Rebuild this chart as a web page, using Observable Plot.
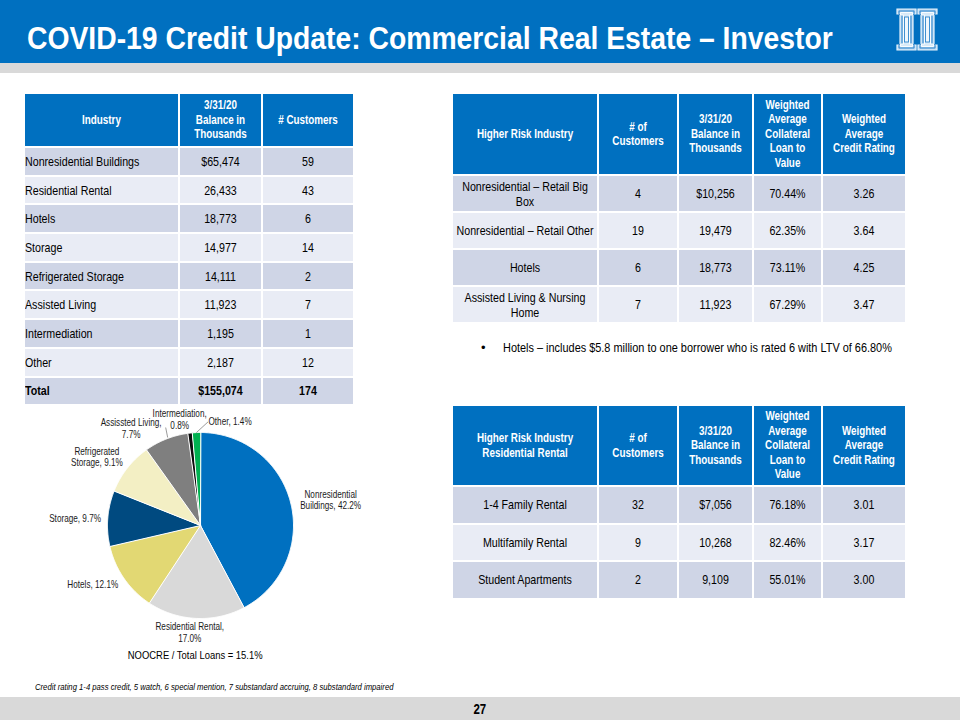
<!DOCTYPE html>
<html>
<head>
<meta charset="utf-8">
<script src="https://cdn.jsdelivr.net/npm/d3@7"></script>
<script src="https://cdn.jsdelivr.net/npm/@observablehq/plot@0.6"></script>
<style>
  html, body { margin: 0; padding: 0; background: #fff; }
  #slide { position: relative; width: 960px; height: 720px; overflow: hidden;
           font-family: "Liberation Sans", Arial, sans-serif; color: #000; }
  .band { position: absolute; left: 0; width: 960px; }
  .sq { display: inline-block; transform: scaleX(0.82); transform-origin: 0 50%; white-space: nowrap; }
  .sqm { display: inline-block; transform: scaleX(0.82); transform-origin: 50% 50%; white-space: nowrap; }
  .sqc { transform: scaleX(0.82); transform-origin: 0 50%; }
  #title { position: absolute; left: 27px; top: 22px; margin: 0; font-size: 32px; line-height: 32px;
           font-weight: bold; color: #fff; white-space: nowrap; }
  #title .sq { transform: scaleX(0.885); }
  table.t { position: absolute; border-collapse: separate; border-spacing: 2px; table-layout: fixed; }
  table.t td, table.t th { padding: 0; vertical-align: middle; overflow: hidden; }
  table.t th { background: #0070c0; color: #fff; font-weight: bold; font-size: 12px; line-height: 14.4px; text-align: center; }
  table.t td { font-size: 13px; line-height: 15px; text-align: center; }
  table.t tr.dk td { background: #cfd5e6; }
  table.t tr.lt td { background: #e9ecf5; }
  table.t td.l { text-align: left; }
  table.t tr.tot td { font-weight: bold; }
  #bullet { position: absolute; left: 481px; top: 340px; font-size: 13px; white-space: nowrap; }
  #bullet .b { position: absolute; left: 0; top: 0; }
  #bullet .sq { position: absolute; left: 22px; top: 0; transform: scaleX(0.84); }
  #noocre { position: absolute; left: 0; width: 390px; top: 649px; text-align: center; font-size: 11.5px; }
  #foot { position: absolute; left: 35px; top: 681px; font-size: 9.5px; font-style: italic; white-space: nowrap; }
  #foot .sq { transform: scaleX(0.81); }
  #page { position: absolute; left: 0; width: 960px; top: 701px; text-align: center; font-size: 14px; font-weight: bold; }
  #pie { position: absolute; left: 10px; top: 400px; width: 380px; height: 270px; }
</style>
</head>
<body>
<div id="slide">
  <div class="band" style="top:0;height:63px;background:#0070c0"></div>
  <div class="band" style="top:63px;height:10px;background:#d9d9d9"></div>
  <div class="band" style="top:697px;height:23px;background:#d9d9d9"></div>
  <h1 id="title"><span class="sq">COVID-19 Credit Update: Commercial Real Estate – Investor</span></h1>
  <svg id="logo" width="46" height="46" style="position:absolute;left:894px;top:7px"></svg>
  <table class="t" id="tblIndustry" style="left:23px;top:92px;"></table>
  <table class="t" id="tblRisk" style="left:451px;top:92px;"></table>
  <table class="t" id="tblRes" style="left:451px;top:404px;"></table>
  <div id="bullet"><span class="b">•</span><span class="sq">Hotels – includes $5.8 million to one borrower who is rated 6 with LTV of 66.80%</span></div>
  <div id="pie"></div>
  <div id="noocre"><span class="sqm">NOOCRE / Total Loans = 15.1%</span></div>
  <div id="foot"><span class="sq">Credit rating 1-4 pass credit, 5 watch, 6 special mention, 7 substandard accruing, 8 substandard impaired</span></div>
  <div id="page"><span class="sqm">27</span></div>
</div>
<script>
// ---------------- DATA ----------------
const industryHeaders = ["Industry", "3/31/20\nBalance in\nThousands", "# Customers"];
const industries = ["Nonresidential Buildings", "Residential Rental", "Hotels", "Storage",
                    "Refrigerated Storage", "Assisted Living", "Intermediation", "Other"];
const balances = [65474, 26433, 18773, 14977, 14111, 11923, 1195, 2187];
const customers = [59, 43, 6, 14, 2, 7, 1, 12];
const totalLabel = "Total";
const totalBalance = 155074;
const totalCustomers = 174;

// pie labels as printed on the chart (including the original spelling)
const pieNames = ["Nonresidential\nBuildings", "Residential Rental", "Hotels", "Storage",
                  "Refrigerated\nStorage", "Assissted Living", "Intermediation", "Other"];
const pieBreakBeforePct = [false, true, false, false, false, true, true, false];
const sliceColors = ["#0070c0", "#d9d9d9", "#e2d873", "#004a80", "#f3efc4", "#7f7f7f", "#0d0d0d", "#00b050"];

const riskHeaders = ["Higher Risk Industry", "# of\nCustomers", "3/31/20\nBalance in\nThousands",
                     "Weighted\nAverage\nCollateral\nLoan to\nValue", "Weighted\nAverage\nCredit Rating"];
const riskIndustries = ["Nonresidential – Retail Big Box", "Nonresidential – Retail Other", "Hotels",
                        "Assisted Living & Nursing Home"];
const riskCustomers = [4, 19, 6, 7];
const riskBalances = [10256, 19479, 18773, 11923];
const riskLTV = [70.44, 62.35, 73.11, 67.29];
const riskRating = [3.26, 3.64, 4.25, 3.47];

const resHeaders = ["Higher Risk Industry\nResidential Rental", "# of\nCustomers", "3/31/20\nBalance in\nThousands",
                    "Weighted\nAverage\nCollateral\nLoan to\nValue", "Weighted\nAverage\nCredit Rating"];
const resIndustries = ["1-4 Family Rental", "Multifamily Rental", "Student Apartments"];
const resCustomers = [32, 9, 2];
const resBalances = [7056, 10268, 9109];
const resLTV = [76.18, 82.46, 55.01];
const resRating = [3.01, 3.17, 3.00];

// ---------------- TABLES ----------------
const S = 0.82; // horizontal squeeze to mimic the slide's narrow lettering
const fmtComma = d3.format(",");
const money = (v, i) => (i === 0 ? "$" : "") + fmtComma(v);
const esc = s => String(s).replace(/&/g, "&amp;").replace(/</g, "&lt;").replace(/\n/g, "<br>");
const wrap = (s, w) => `<div class="sqc" style="width:${w / S}px;margin-right:${w - w / S}px">${esc(s)}</div>`;

function buildTable(id, headers, widths, headH, rowH, rows, leftFirst, totalRow) {
  const t = document.getElementById(id);
  let h = "<colgroup>" + widths.map(w => `<col style="width:${w}px">`).join("") + "</colgroup>";
  h += `<tr style="height:${headH}px">` + headers.map((s, j) => `<th>${wrap(s, widths[j])}</th>`).join("") + "</tr>";
  const row = (r, cls) => `<tr class="${cls}" style="height:${rowH}px">` +
      r.map((c, j) => `<td class="${j === 0 && leftFirst ? "l" : ""}">${wrap(c, widths[j])}</td>`).join("") + "</tr>";
  rows.forEach((r, i) => { h += row(r, i % 2 === 0 ? "dk" : "lt"); });
  if (totalRow) h += row(totalRow, (rows.length % 2 === 0 ? "dk" : "lt") + " tot");
  t.innerHTML = h;
  t.style.width = (d3.sum(widths) + 2 * (widths.length + 1)) + "px";
}

buildTable("tblIndustry", industryHeaders, [153, 81, 90], 52, 26.7,
  industries.map((d, i) => [d, money(balances[i], i), customers[i]]), true,
  [totalLabel, "$" + fmtComma(totalBalance), totalCustomers]);

buildTable("tblRisk", riskHeaders, [144, 78, 73, 67, 82], 80, 35,
  riskIndustries.map((d, i) => [d, riskCustomers[i], money(riskBalances[i], i),
    riskLTV[i].toFixed(2) + "%", riskRating[i].toFixed(2)]), false, null);

buildTable("tblRes", resHeaders, [144, 78, 73, 67, 82], 79, 35.5,
  resIndustries.map((d, i) => [d, resCustomers[i], money(resBalances[i], i),
    resLTV[i].toFixed(2) + "%", resRating[i].toFixed(2)]), false, null);

// ---------------- PIE (Observable Plot) ----------------
const W = 380, H = 270, Rpx = 93;          // plot size and pie radius in pixels
const cxPx = 190, cyPx = 125;              // pie centre inside the plot
const sum = d3.sum(balances);
const pct = d3.format(".1%");
const arcs = d3.pie().sort(null).value(d => d)(balances);

const slicePts = [];
arcs.forEach((a, i) => {
  slicePts.push({k: i, x: 0, y: 0, c: sliceColors[i]});
  const n = Math.max(2, Math.ceil((a.endAngle - a.startAngle) / 0.01));
  for (let j = 0; j <= n; j++) {
    const t = a.startAngle + (a.endAngle - a.startAngle) * j / n;
    slicePts.push({k: i, x: Math.sin(t), y: -Math.cos(t), c: sliceColors[i]});
  }
});

// label placement: polar position at 1.32 R, with small pixel nudges to mimic the slide's layout
const labelNudge = [[11, 4], [-5, -16], [-7, -11], [-3, 2], [-7, 7], [-24, 17], [-7, 16], [35, 18]];
const labels = arcs.map((a, i) => {
  const m = (a.startAngle + a.endAngle) / 2;
  return {
    x: 1.32 * Math.sin(m) + labelNudge[i][0] / Rpx,
    y: -1.32 * Math.cos(m) + labelNudge[i][1] / Rpx,
    text: pieNames[i] + "," + (pieBreakBeforePct[i] ? "\n" : " ") + pct(balances[i] / sum),
    m, i
  };
});
// leader lines for the two thin slices
const leaders = [
  {x1: labels[6].x - 14 / Rpx, y1: labels[6].y + 8 / Rpx, x2: labels[6].x - 12 / Rpx, y2: labels[6].y + 18 / Rpx},
  {x1: labels[7].x - 22 / Rpx, y1: labels[7].y + 1 / Rpx,
   x2: 1.0 * Math.sin(labels[7].m), y2: -1.0 * Math.cos(labels[7].m)}
];

const pie = Plot.plot({
  width: W, height: H, margin: 0,
  x: {domain: [-cxPx / Rpx, (W - cxPx) / Rpx], range: [0, W], axis: null},
  y: {domain: [-cyPx / Rpx, (H - cyPx) / Rpx], range: [0, H], axis: null},
  color: {type: "identity"},
  style: {background: "transparent", overflow: "visible",
          fontFamily: "'Liberation Sans',Arial,sans-serif"},
  marks: [
    Plot.line(slicePts, {x: "x", y: "y", z: "k", fill: "c", stroke: "white", strokeWidth: 1, curve: "linear-closed"}),
    Plot.link(leaders, {x1: "x1", y1: "y1", x2: "x2", y2: "y2", stroke: "#808080", strokeWidth: 0.8}),
    Plot.text(labels, {x: "x", y: "y", text: "text", fontSize: 10.5, lineHeight: 1.12, fill: "#1a1a1a", textAnchor: "middle"})
  ]
});
// squeeze the label lettering horizontally, about each label's own anchor
pie.querySelectorAll("g[aria-label='text'] text").forEach(t => {
  const tr = t.getAttribute("transform") || "";
  t.setAttribute("transform", tr + " scale(0.78,1)");
});
document.getElementById("pie").appendChild(pie);

// ---------------- LOGO ----------------
(function () {
  const s = d3.select("#logo");
  const ibeam = (o) => `M${o},${o}H${19 - o}V${5 + o * 0.3}H${16 - o}V${36 - o * 0.3}H${19 - o}V${41 - o}H${o}V${36 - o * 0.3}H${3 + o}V${5 + o * 0.3}H${o}Z`;
  [3, 24].forEach(x0 => {
    const g = s.append("g").attr("transform", `translate(${x0},2)`);
    g.append("path").attr("d", ibeam(0)).attr("fill", "#a9cfee").attr("stroke", "#eaf4fc").attr("stroke-width", 1.2);
    g.append("path").attr("d", ibeam(2)).attr("fill", "none").attr("stroke", "#2f86cc").attr("stroke-width", 0.9);
    g.append("path").attr("d", ibeam(3.5)).attr("fill", "#d8eaf8").attr("stroke", "#ffffff").attr("stroke-width", 0.9);
    g.append("rect").attr("x", 7.5).attr("y", 8).attr("width", 4).attr("height", 25)
      .attr("fill", "#eef6fc").attr("stroke", "#2f86cc").attr("stroke-width", 0.9);
  });
})();
</script>
</body>
</html>
